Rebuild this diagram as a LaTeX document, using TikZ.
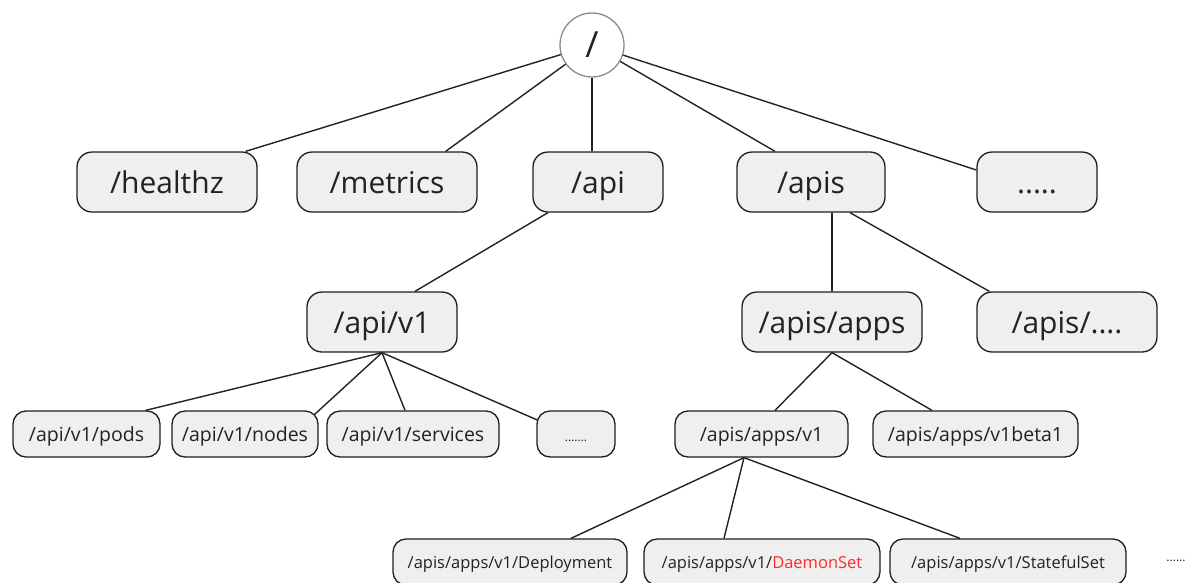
\documentclass[tikz,border=0pt]{standalone}
\usepackage{fontspec}
\setmainfont{Open Sans}
\definecolor{boxfill}{HTML}{EFEFEF}
\definecolor{boxline}{HTML}{1E1E1E}
\definecolor{linecol}{HTML}{222222}
\definecolor{rootline}{HTML}{8C8C8C}
\definecolor{txt}{HTML}{222222}
\definecolor{hilite}{HTML}{FF2A2A}
\begin{document}
\begin{tikzpicture}[x=1pt,y=-1pt,
  box/.style={draw=boxline, fill=boxfill, line width=1.3pt, inner sep=0pt,
    text=txt, align=center, text depth=0pt},
  lvlA/.style={box, rounded corners=15pt, minimum height=60pt, text height=22pt,
    font=\fontsize{30}{34}\selectfont},
  lvlB/.style={box, rounded corners=13pt, minimum height=46pt, text height=14pt,
    font=\fontsize{19.5}{22}\selectfont},
  lvlC/.style={box, rounded corners=13pt, minimum height=46pt, text height=12pt,
    font=\fontsize{16.5}{20}\selectfont},
  rootnode/.style={circle, draw=rootline, fill=white, line width=1.3pt,
    minimum size=64pt, inner sep=0pt, text=txt,
    font=\fontsize{36}{40}\selectfont},
  link/.style={draw=linecol, line width=1.4pt},
]
\useasboundingbox (0,0) rectangle (1194,582);

% root of the URL tree
\node[rootnode] (root) at (592,45) {/};

% first level
\node[lvlA, minimum width=180pt] (healthz)  at (167,182) {/healthz};
\node[lvlA, minimum width=180pt] (metrics)  at (387,182) {/metrics};
\node[lvlA, minimum width=130pt] (api)      at (598,182) {/api};
\node[lvlA, minimum width=148pt] (apis)     at (811,182) {/apis};
\node[lvlA, minimum width=120pt] (moreA)    at (1037,182) {.....};

% second level
\node[lvlA, minimum width=150pt] (apiv1)    at (382,322) {/api/v1};
\node[lvlA, minimum width=180pt] (apps)     at (832,322) {/apis/apps};
\node[lvlA, minimum width=180pt] (moreB)    at (1067,322) {/apis/....};

% third level
\node[lvlB, minimum width=147pt] (pods)     at (86.5,434) {/api/v1/pods};
\node[lvlB, minimum width=146pt] (nodes)    at (245,434) {/api/v1/nodes};
\node[lvlB, minimum width=172pt] (services) at (413,434) {/api/v1/services};
\node[lvlB, minimum width=78pt, font=\fontsize{12}{14}\selectfont]
                                  (moreC)    at (576,434) {.......};
\node[lvlB, minimum width=173pt] (appsv1)   at (761.5,434) {/apis/apps/v1};
\node[lvlB, minimum width=205pt] (beta)     at (975.5,434) {/apis/apps/v1beta1};

% resources of apps/v1
\node[lvlC, minimum width=234pt] (deploy)   at (510,562) {/apis/apps/v1/Deployment};
\node[lvlC, minimum width=236pt] (daemon)   at (762,562) {/apis/apps/v1/\textcolor{hilite}{DaemonSet}};
\node[lvlC, minimum width=236pt] (stateful) at (1008,562) {/apis/apps/v1/StatefulSet};
\node[anchor=base, text=txt, font=\fontsize{12}{14}\selectfont, inner sep=0pt]
  (moreD) at (1176,561) {......};

% connectors
\draw[link] (root) -- ([xshift=-12pt]healthz.north east);
\draw[link] (root) -- ([xshift=-32pt]metrics.north east);
\draw[link] (root.south) -- (root.south |- api.north);
\draw[link] (root) -- ([xshift=-36pt]apis.north);
\draw[link] (root) -- ([yshift=12pt]moreA.west);

\draw[link] ([xshift=-50pt]api.south) -- ([xshift=33pt]apiv1.north);
\draw[link] (apps.north) -- (apps.north |- apis.south);
\draw[link] ([xshift=39pt]apis.south) -- ([xshift=13pt]moreB.north west);

\draw[link] (apiv1.south) -- ([xshift=-15pt]pods.north east);
\draw[link] (apiv1.south) -- ([xshift=-4pt,yshift=-4pt]nodes.north east);
\draw[link] (apiv1.south) -- ([xshift=-8pt]services.north);
\draw[link] (apiv1.south) -- ([xshift=1pt,yshift=14pt]moreC.west);

\draw[link] (apps.south) -- ([xshift=13.5pt]appsv1.north);
\draw[link] (apps.south) -- ([xshift=-43.5pt]beta.north);

\draw[link] ([xshift=-17.5pt]appsv1.south) -- ([xshift=61pt]deploy.north);
\draw[link] ([xshift=-17.5pt]appsv1.south) -- ([xshift=-38pt]daemon.north);
\draw[link] ([xshift=-17.5pt]appsv1.south) -- ([xshift=-48pt]stateful.north);
\end{tikzpicture}
\end{document}
